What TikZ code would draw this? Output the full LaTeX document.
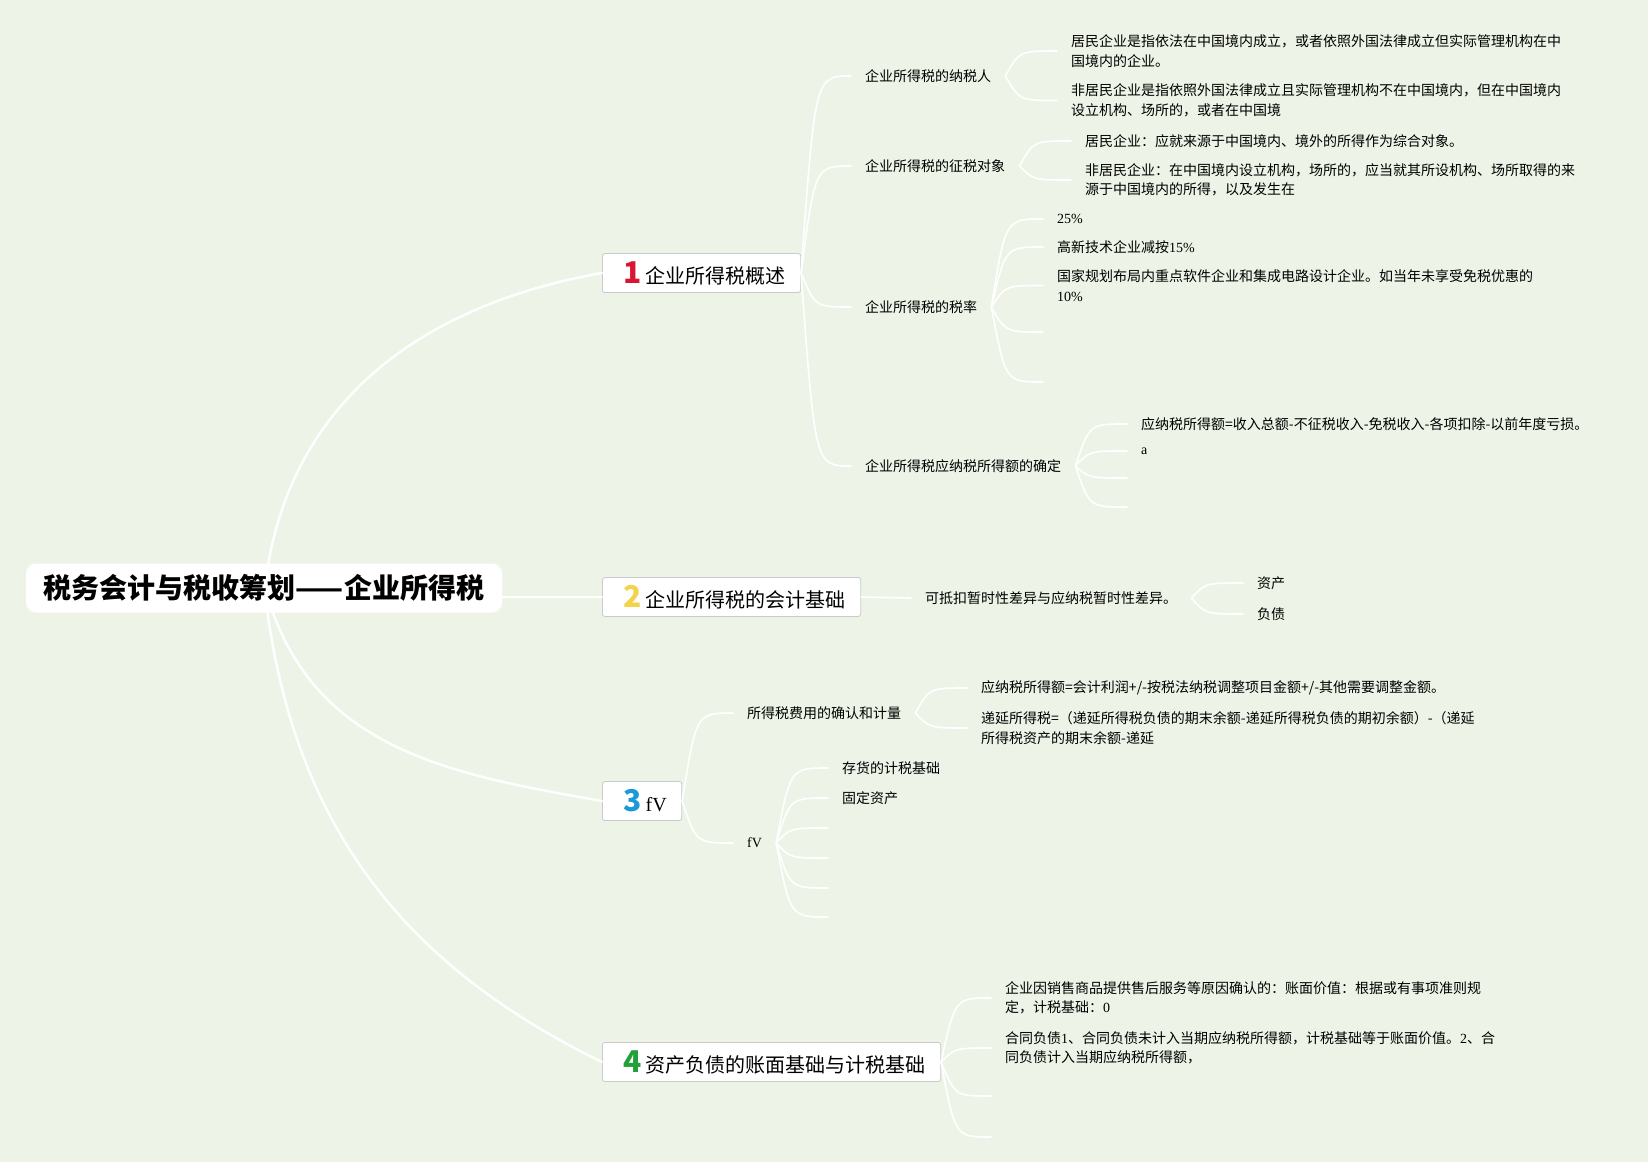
\documentclass[tikz,border=0pt]{standalone}
\usepackage{fontspec}
\setmainfont{Noto Sans CJK SC}
\newfontfamily\latin{Liberation Serif}
\newcommand\lat[1]{{\latin #1}}
\newcommand\topicnum[2]{\hspace{6pt}{\color{#1}\fontsize{30}{30}\selectfont\bfseries #2}\hspace{4pt}}
\definecolor{bgcol}{RGB}{237,244,231}
\definecolor{boxline}{RGB}{200,204,200}
\definecolor{numred}{RGB}{216,22,52}
\definecolor{numyellow}{RGB}{243,211,74}
\definecolor{numblue}{RGB}{28,154,214}
\definecolor{numgreen}{RGB}{36,160,58}

\begin{document}
\begin{tikzpicture}[x=1pt,y=1pt,
    link/.style={white,line width=1.6pt,line cap=round},
    trunk/.style={white,line width=2.4pt,line cap=round},
    fork/.style={to path={.. controls ([xshift=#1]\tikztostart |- \tikztotarget) .. (\tikztotarget)}},
    fork/.default=14pt,
    topic/.style={draw=boxline,line width=0.8pt,fill=white,rounded corners=2.5pt,anchor=west,minimum height=39pt,inner xsep=15pt,inner ysep=0pt,font=\fontsize{20}{24}\selectfont},
    leaf/.style={anchor=west,inner xsep=14pt,inner ysep=0pt,align=left,font=\fontsize{14}{19.5}\selectfont}]
    \fill[bgcol] (0,0) rectangle (1648,-1162);
    \useasboundingbox (0,0) rectangle (1648,-1162);

    \node[fill=white,rounded corners=10pt,minimum width=476pt,minimum height=49pt,inner sep=0pt,font=\fontsize{28}{32}\selectfont\bfseries] (root) at (264,-588) {税务会计与税收筹划——企业所得税};

    \node[topic] (b1) at (602,-273) {\topicnum{numred}{1}企业所得税概述};
    \node[topic] (b2) at (602,-597) {\topicnum{numyellow}{2}企业所得税的会计基础};
    \node[topic] (b3) at (602,-801) {\topicnum{numblue}{3}\lat{fV}};
    \node[topic] (b4) at (602,-1062) {\topicnum{numgreen}{4}资产负债的账面基础与计税基础};

    \node[leaf] (n11) at (851,-76) {企业所得税的纳税人};
    \node[leaf] (n12) at (851,-166) {企业所得税的征税对象};
    \node[leaf] (n13) at (851,-307) {企业所得税的税率};
    \node[leaf] (n14) at (851,-466) {企业所得税应纳税所得额的确定};

    \node[leaf] (n111) at (1057,-51) {居民企业是指依法在中国境内成立，或者依照外国法律成立但实际管理机构在中\\国境内的企业。};
    \node[leaf] (n112) at (1057,-100.5) {非居民企业是指依照外国法律成立且实际管理机构不在中国境内，但在中国境内\\设立机构、场所的，或者在中国境};
    \node[leaf] (n121) at (1071,-141) {居民企业：应就来源于中国境内、境外的所得作为综合对象。};
    \node[leaf] (n122) at (1071,-180) {非居民企业：在中国境内设立机构，场所的，应当就其所设机构、场所取得的来\\源于中国境内的所得，以及发生在};
    \node[leaf] (n131) at (1043,-219) {\lat{25\%}};
    \node[leaf] (n132) at (1043,-247) {高新技术企业减按\lat{15\%}};
    \node[leaf] (n133) at (1043,-285.5) {国家规划布局内重点软件企业和集成电路设计企业。如当年未享受免税优惠的\\\lat{10\%}};
    \coordinate (n134) at (1043,-332);
    \coordinate (n135) at (1043,-382);
    \node[leaf] (n141) at (1127,-424) {应纳税所得额=收入总额-不征税收入-免税收入-各项扣除-以前年度亏损。};
    \node[leaf] (n142) at (1127,-451) {\lat{a}};
    \coordinate (n143) at (1127,-478);
    \coordinate (n144) at (1127,-507);

    \node[leaf] (n21) at (911,-598) {可抵扣暂时性差异与应纳税暂时性差异。};
    \node[leaf] (n211) at (1243,-583) {资产};
    \node[leaf] (n212) at (1243,-614) {负债};

    \node[leaf] (n31) at (733,-713) {所得税费用的确认和计量};
    \node[leaf] (n32) at (733,-843) {\lat{fV}};
    \node[leaf] (n311) at (967,-688) {应纳税所得额=会计利润+/-按税法纳税调整项目金额+/-其他需要调整金额。};
    \node[leaf] (n312) at (967,-728) {递延所得税=（递延所得税负债的期末余额-递延所得税负债的期初余额）-（递延\\所得税资产的期末余额-递延};
    \node[leaf] (n321) at (828,-768) {存货的计税基础};
    \node[leaf] (n322) at (828,-798) {固定资产};
    \coordinate (n323) at (828,-828);
    \coordinate (n324) at (828,-858);
    \coordinate (n325) at (828,-888);
    \coordinate (n326) at (828,-917);

    \node[leaf] (n41) at (991,-998) {企业因销售商品提供售后服务等原因确认的：账面价值：根据或有事项准则规\\定，计税基础：\lat{0}};
    \node[leaf] (n42) at (991,-1048) {合同负债\lat{1}、合同负债未计入当期应纳税所得额，计税基础等于账面价值。\lat{2}、合\\同负债计入当期应纳税所得额，};
    \coordinate (n43) at (991,-1096);
    \coordinate (n44) at (991,-1137);

    \draw[trunk] (root) to[out=80,in=190] (b1.west);
    \draw[trunk] (root.east |- b2.west) -- (b2.west);
    \draw[trunk] (root) to[out=-70,in=170] (b3.west);
    \draw[trunk] (root) to[out=-82,in=154] (b4.west);

    \foreach \c in {n11,n12,n13,n14} \draw[link] (b1.east) to[fork] (\c.west);
    \foreach \c in {n111,n112} \draw[link] (n11.east) to[fork] (\c.west);
    \foreach \c in {n121,n122} \draw[link] (n12.east) to[fork] (\c.west);
    \foreach \c in {n131,n132,n133} \draw[link] (n13.east) to[fork] (\c.west);
    \foreach \c in {n134,n135} \draw[link] (n13.east) to[fork] (\c);
    \foreach \c in {n141,n142} \draw[link] (n14.east) to[fork] (\c.west);
    \foreach \c in {n143,n144} \draw[link] (n14.east) to[fork] (\c);
    \draw[link] (b2.east) -- (n21.west);
    \foreach \c in {n211,n212} \draw[link] (n21.east) to[fork] (\c.west);
    \foreach \c in {n31,n32} \draw[link] (b3.east) to[fork] (\c.west);
    \foreach \c in {n311,n312} \draw[link] (n31.east) to[fork] (\c.west);
    \foreach \c in {n321,n322} \draw[link] (n32.east) to[fork] (\c.west);
    \foreach \c in {n323,n324,n325,n326} \draw[link] (n32.east) to[fork] (\c);
    \foreach \c in {n41,n42} \draw[link] (b4.east) to[fork] (\c.west);
    \foreach \c in {n43,n44} \draw[link] (b4.east) to[fork] (\c);
\end{tikzpicture}
\end{document}
